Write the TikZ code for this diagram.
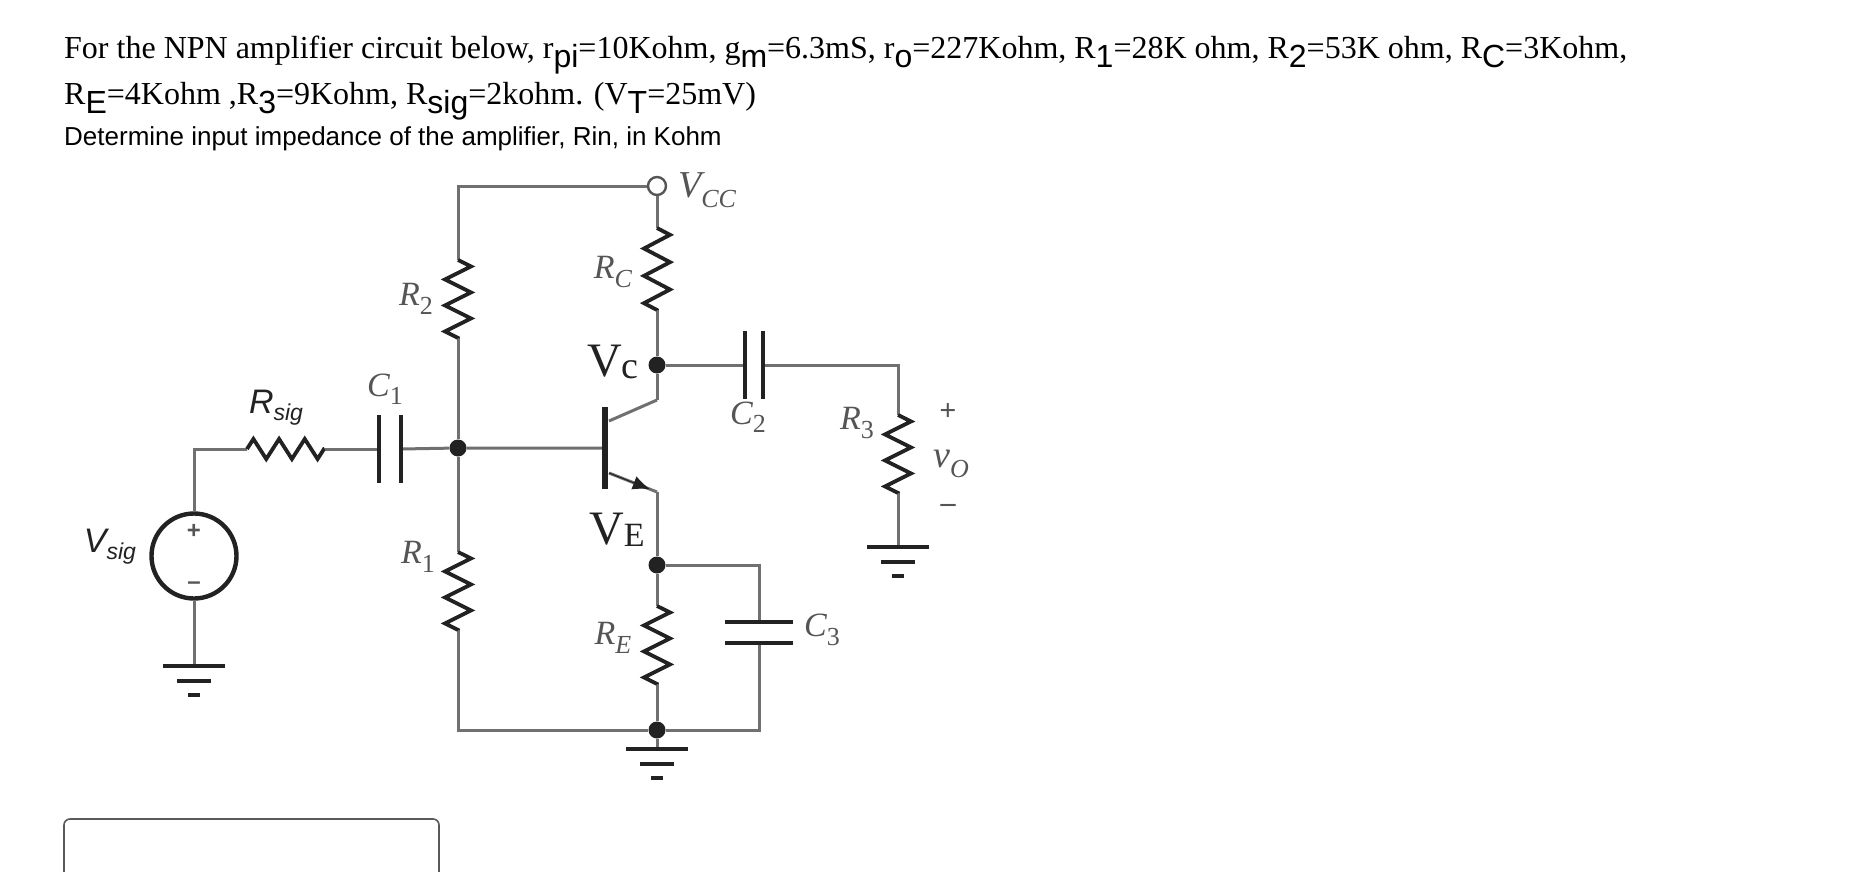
\documentclass[tikz,border=0pt]{standalone}
\usepackage{fontspec}
\setmainfont{Liberation Serif}
\setsansfont{Liberation Sans}
\usetikzlibrary{calc,arrows.meta,decorations.pathmorphing}
\definecolor{wiregray}{HTML}{707070}
\definecolor{partblack}{HTML}{222222}
\definecolor{labelgray}{HTML}{555555}
\newcommand{\fsz}[1]{\fontsize{#1}{#1}\selectfont}
\newcommand{\lowsf}[1]{\raisebox{-0.28em}{\sffamily #1}}
\newcommand{\lab}[2]{{\itshape #1}{\raisebox{-0.25em}{\fsz{26}\itshape #2}}}
\newcommand{\sanslab}[2]{{\sffamily\itshape\fsz{34}#1\raisebox{-0.2em}{\fsz{23}#2}}}
\newcommand{\ground}[1]{
    \draw[part](#1)++(-31,0)--++(62,0);
    \draw[part](#1)++(-17,15)--++(34,0);
    \draw[part](#1)++(-6,29)--++(12,0);
}
\tikzset{
    wire/.style={draw=wiregray,line width=3pt},
    part/.style={draw=partblack,line width=3.8pt},
    res/.style={part,decorate,decoration={zigzag,segment length=#1/3*1pt,amplitude=13pt}},
    res/.default=77.9,
    dot/.style={circle,fill=partblack,inner sep=0pt,minimum size=17pt},
    lbl/.style={inner sep=0pt,text=labelgray,font=\fsz{34}},
    big/.style={inner sep=0pt,text=partblack,font=\fsz{48}},
    qtext/.style={anchor=base west,inner sep=0pt,text=black}
}
\begin{document}
\begin{tikzpicture}[x=1pt,y=-1pt]
    \useasboundingbox[fill=white](0,0)rectangle(1874,872);

    \node[qtext,font=\fsz{32}](line1)at(64,59){For the NPN amplifier circuit below, r\lowsf{pi}=10Kohm, g\lowsf{m}=6.3mS, r\lowsf{o}=227Kohm, R\lowsf{1}=28K ohm, R\lowsf{2}=53K ohm, R\lowsf{C}=3Kohm,};
    \node[qtext,font=\fsz{32}](line2)at(64,105){R\lowsf{E}=4Kohm ,R\lowsf{3}=9Kohm, R\lowsf{sig}=2kohm. (V\lowsf{T}=25mV)};
    \node[qtext,font=\sffamily\fsz{26}](line3)at(64,146){Determine input impedance of the amplifier, Rin, in Kohm};

    % junctions
    \node[circle,draw=labelgray,line width=2.4pt,fill=white,inner sep=0pt,minimum size=18pt](vcc)at(657,186){};
    \node[dot](vc)at(657,365){};
    \node[dot](base)at(458,448){};
    \node[dot](ve)at(657,565){};
    \node[dot](gnd)at(657,730){};
    \node[circle,draw=partblack,line width=4.4pt,minimum size=85pt,inner sep=0pt](vsig)at(194,556){};

    \coordinate(tl)at(458,186);
    \coordinate(bl)at(458,730);
    \coordinate(r2a)at(458,260);
    \coordinate(r2b)at(458,338);
    \coordinate(r1a)at(458,552);
    \coordinate(r1b)at(458,630);
    \coordinate(rca)at(657,228);
    \coordinate(rcb)at(657,310);
    \coordinate(rea)at(657,606);
    \coordinate(reb)at(657,684);
    \coordinate(cout)at(657,400);
    \coordinate(eout)at(657,492);
    \coordinate(cin)at(609,421);
    \coordinate(ein)at(609,473);
    \coordinate(bartop)at(605,407);
    \coordinate(barbot)at(605,489);
    \coordinate(bbar)at(605,448);
    \coordinate(srctop)at(194,449);
    \coordinate(rsa)at(247,449);
    \coordinate(rsb)at(324,449);
    \coordinate(c1a)at(379,449);
    \coordinate(c1b)at(401,449);
    \coordinate(c2a)at(745,365);
    \coordinate(c2b)at(763,365);
    \coordinate(outc)at(898,365);
    \coordinate(r3a)at(898,415);
    \coordinate(r3b)at(898,493);
    \coordinate(g3)at(898,547);
    \coordinate(g1)at(194,666);
    \coordinate(g2)at(657,749);
    \coordinate(c3t)at(759,565);
    \coordinate(c3a)at(759,622);
    \coordinate(c3b)at(759,643);
    \coordinate(c3c)at(759,730);

    % wires
    \draw[wire](r2a)--(tl)--(vcc);
    \draw[wire](vcc)--(rca);
    \draw[wire](rcb)--(vc)--(cout);
    \draw[wire](r2b)--(base)--(r1a);
    \draw[wire](r1b)--(bl)--(gnd)--(g2);
    \draw[wire](gnd)--(c3c)--(c3b);
    \draw[wire](c3a)--(c3t)--(ve);
    \draw[wire](eout)--(ve)--(rea);
    \draw[wire](reb)--(gnd);
    \draw[wire](vc)--(c2a);
    \draw[wire](c2b)--(outc)--(r3a);
    \draw[wire](r3b)--(g3);
    \draw[wire](vsig)--(srctop)--(rsa);
    \draw[wire](vsig)--(g1);
    \draw[wire](rsb)--(c1a);
    \draw[wire](c1b)--(base)--(bbar);
    \draw[wire](cin)--(cout);
    \draw[wire](ein)--(eout);
    \draw[draw=partblack,line width=1pt,-{Latex[length=17pt,width=14pt]}](ein)--($(ein)!0.85!(eout)$);

    % parts
    \draw[res](r2a)--(r2b);
    \draw[res](r1a)--(r1b);
    \draw[res=82](rca)--(rcb);
    \draw[res](rea)--(reb);
    \draw[res](r3a)--(r3b);
    \draw[res=77,decoration={amplitude=10pt}](rsa)--(rsb);
    \draw[part,line width=5.4pt](bartop)--(barbot);
    \draw[part](c1a)++(0,-34)--++(0,68);
    \draw[part](c1b)++(0,-34)--++(0,68);
    \draw[part](c2a)++(0,-34)--++(0,68);
    \draw[part](c2b)++(0,-34)--++(0,68);
    \draw[part](c3a)++(-34,0)--++(68,0);
    \draw[part](c3b)++(-34,0)--++(68,0);
    \ground{g1}
    \ground{g2}
    \ground{g3}

    % labels
    \node[inner sep=0pt,text=labelgray,font=\sffamily\bfseries\fsz{24}](plus)at(194,531){+};
    \node[inner sep=0pt,text=labelgray,font=\sffamily\bfseries\fsz{24}](minus)at(194,586){--};
    \node[inner sep=0pt,text=partblack](lvsig)at(110,547){\sanslab{V}{sig}};
    \node[inner sep=0pt,text=partblack](lrsig)at(276,408){\sanslab{R}{sig}};
    \node[lbl](lc1)at(385,389){\lab{C}{\upshape 1}};
    \node[lbl](lc2)at(748,417){\lab{C}{\upshape 2}};
    \node[lbl](lc3)at(822,630){\lab{C}{\upshape 3}};
    \node[lbl](lr1)at(418,557){\lab{R}{\upshape 1}};
    \node[lbl](lr2)at(416,299){\lab{R}{\upshape 2}};
    \node[lbl](lr3)at(857,423){\lab{R}{\upshape 3}};
    \node[lbl](lrc)at(613,272){\lab{R}{C}};
    \node[lbl](lre)at(613,638){\lab{R}{E}};
    \node[lbl,font=\fsz{38}](lvcc)at(707,190){\lab{V}{CC}};
    \node[lbl,font=\fsz{38}](lvo)at(951,464){\lab{v}{O}};
    \node[lbl,font=\bfseries\fsz{30}](lplus)at(948,412){+};
    \node[lbl,font=\bfseries\fsz{30}](lminus)at(948,508){--};
    \node[big](lvc)at(613,362){V{\fsz{38}\raisebox{-0.05em}{c}}};
    \node[big](lve)at(617,530){V{\fsz{34}\raisebox{-0.05em}{E}}};

    % answer box
    \draw[draw=black!65,line width=1.6pt,rounded corners=6pt](64,900)--(64,819)--(439,819)--(439,900);
\end{tikzpicture}
\end{document}
